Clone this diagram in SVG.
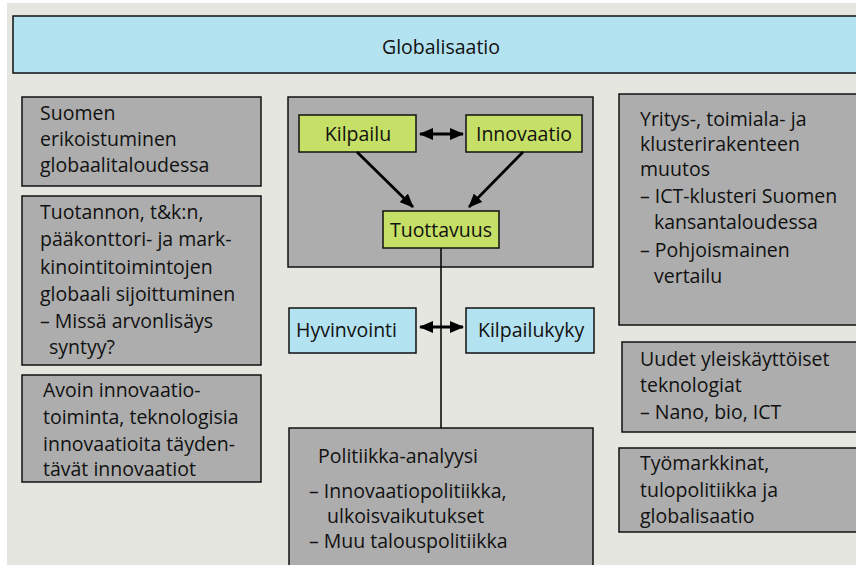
<svg xmlns="http://www.w3.org/2000/svg" width="856" height="565" viewBox="0 0 856 565">
<defs>
<marker id="ah" viewBox="0 0 14 12" refX="13" refY="6" markerWidth="14" markerHeight="12" markerUnits="userSpaceOnUse" orient="auto-start-reverse">
<path d="M0,0 L14,6 L0,12 z" fill="#000"/>
</marker>
</defs>
<style>
.box{fill:#adadad;stroke:#111;stroke-width:1.5}
.blue{fill:#b3e2f0;stroke:#111;stroke-width:1.5}
.green{fill:#c6df66;stroke:#111;stroke-width:1.5}
text{font-family:"Open Sans","Noto Sans",sans-serif;font-size:19.5px;fill:#111}
.c{text-anchor:middle}
.arr{stroke:#000;stroke-width:2.8;fill:none}
.ln{stroke:#000;stroke-width:1.5;fill:none}
</style>
<rect x="0" y="0" width="856" height="565" fill="#fff"/>
<rect x="7" y="3" width="849" height="562" fill="#e6e6e1"/>

<g id="globalisaatio">
<rect class="blue" x="13" y="16" width="850" height="57"/>
<text class="c" x="441" y="54">Globalisaatio</text>
</g>

<g id="suomen">
<rect class="box" x="22" y="97" width="239" height="89"/>
<text x="40" y="120">Suomen</text>
<text x="40" y="146">erikoistuminen</text>
<text x="40" y="172">globaalitaloudessa</text>
</g>

<g id="tuotannon">
<rect class="box" x="22" y="196" width="239" height="169"/>
<text x="40" y="219">Tuotannon, t&amp;k:n,</text>
<text x="40" y="246">pääkonttori- ja mark-</text>
<text x="40" y="274">kinointitoimintojen</text>
<text x="40" y="301">globaali sijoittuminen</text>
<text x="40" y="328">– Missä arvonlisäys</text>
<text x="49" y="354">syntyy?</text>
</g>

<g id="avoin">
<rect class="box" x="22" y="375" width="239" height="107"/>
<text x="43" y="397">Avoin innovaatio-</text>
<text x="43" y="424">toiminta, teknologisia</text>
<text x="43" y="451">innovaatioita täyden-</text>
<text x="43" y="476">tävät innovaatiot</text>
</g>

<g id="ydin">
<rect class="box" x="288" y="97" width="305" height="170"/>
</g>

<g id="kilpailu">
<rect class="green" x="299" y="115" width="117" height="37"/>
<text class="c" x="358" y="141">Kilpailu</text>
</g>

<g id="innovaatio">
<rect class="green" x="466" y="115" width="116" height="37"/>
<text class="c" x="524" y="141">Innovaatio</text>
</g>

<g id="tuottavuus">
<rect class="green" x="383" y="211" width="116" height="37"/>
<text class="c" x="441" y="237">Tuottavuus</text>
</g>

<g id="hyvinvointi">
<rect class="blue" x="289" y="308" width="127" height="45"/>
<text x="296" y="337">Hyvinvointi</text>
</g>

<g id="kilpailukyky">
<rect class="blue" x="466" y="308" width="128" height="45"/>
<text x="478" y="337">Kilpailukyky</text>
</g>

<g id="politiikka">
<rect class="box" x="289" y="428" width="304" height="150"/>
<text x="318" y="463">Politiikka-analyysi</text>
<text x="309" y="498">– Innovaatiopolitiikka,</text>
<text x="327" y="523">ulkoisvaikutukset</text>
<text x="309" y="548">– Muu talouspolitiikka</text>
</g>

<g id="yritys">
<rect class="box" x="619" y="94" width="250" height="231"/>
<text x="640" y="126">Yritys-, toimiala- ja</text>
<text x="640" y="151">klusterirakenteen</text>
<text x="640" y="176">muutos</text>
<text x="640" y="203">– ICT-klusteri Suomen</text>
<text x="654" y="229">kansantaloudessa</text>
<text x="640" y="257">– Pohjoismainen</text>
<text x="654" y="283">vertailu</text>
</g>

<g id="uudet">
<rect class="box" x="622" y="342" width="250" height="90"/>
<text x="640" y="366">Uudet yleiskäyttöiset</text>
<text x="640" y="392">teknologiat</text>
<text x="640" y="419">– Nano, bio, ICT</text>
</g>

<g id="tyomarkkinat">
<rect class="box" x="619" y="448" width="250" height="84"/>
<text x="640" y="470">Työmarkkinat,</text>
<text x="640" y="497">tulopolitiikka ja</text>
<text x="640" y="523">globalisaatio</text>
</g>

<g id="connectors">
<line class="ln" x1="441" y1="248" x2="441" y2="428"/>
<line class="arr" x1="420" y1="134" x2="463" y2="134" marker-start="url(#ah)" marker-end="url(#ah)"/>
<line class="arr" x1="357" y1="152" x2="413" y2="207" marker-end="url(#ah)"/>
<line class="arr" x1="523" y1="152" x2="469" y2="207" marker-end="url(#ah)"/>
<line class="arr" x1="420" y1="327" x2="463" y2="327" marker-start="url(#ah)" marker-end="url(#ah)"/>
</g>
</svg>
